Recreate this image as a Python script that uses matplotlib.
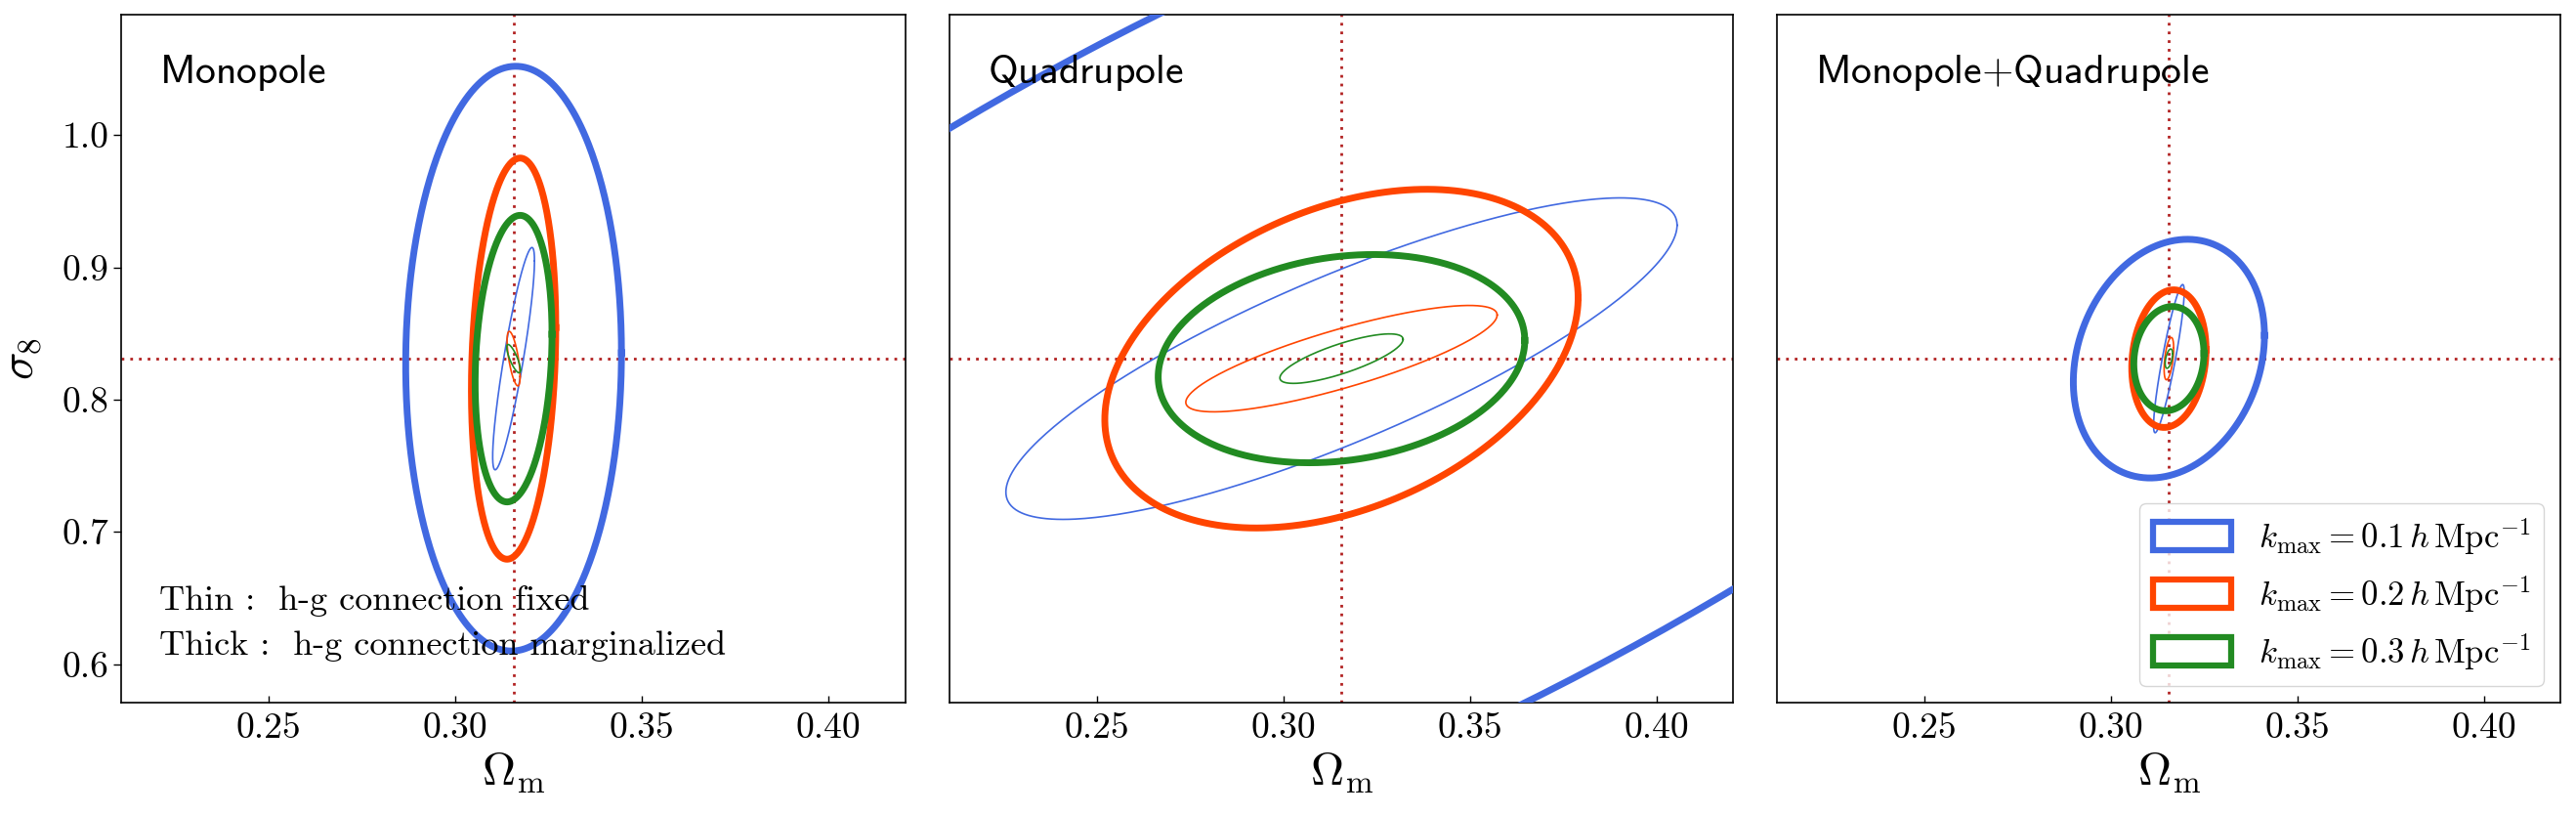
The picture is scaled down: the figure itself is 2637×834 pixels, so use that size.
import numpy as np
import matplotlib
matplotlib.use("Agg")
import matplotlib.pyplot as plt
import matplotlib.patches as mpatches

plt.rcParams["mathtext.fontset"] = "cm"
plt.rcParams["font.family"] = "serif"
plt.rcParams["font.serif"] = ["cmr10"]
plt.rcParams["axes.formatter.use_mathtext"] = True
plt.rcParams["axes.unicode_minus"] = False

# fiducial cosmology
om_fid = 0.3156
s8_fid = 0.831

kmax = [0.1, 0.2, 0.3]
colors = ["royalblue", "orangered", "forestgreen"]

panels = ["Monopole", "Quadrupole", "Monopole{+}Quadrupole"]

# 1-sigma-like half extents (Omega_m, sigma_8) and correlation, per kmax
# thick: h-g connection marginalized
marg_om = [[0.0289, 0.0113, 0.0103],
           [0.269, 0.0634, 0.0491],
           [0.0256, 0.00995, 0.0094]]
marg_s8 = [[0.221, 0.1516, 0.1083],
           [0.453, 0.128, 0.0787],
           [0.0902, 0.052, 0.0394]]
marg_rho = [[0.02, 0.155, 0.17],
            [0.70, 0.36, 0.175],
            [0.195, 0.13, 0.10]]
# thin: h-g connection fixed
fix_om = [[0.0056, 0.00174, 0.00183],
          [0.0899, 0.0417, 0.0165],
          [0.0041, 0.00128, 0.0010]]
fix_s8 = [[0.084, 0.0206, 0.0107],
          [0.1215, 0.0402, 0.0187],
          [0.056, 0.016, 0.0073]]
fix_rho = [[0.88, -0.66, -0.8],
           [0.83, 0.82, 0.78],
           [0.9, 0.5, 0.5]]


def ellipse(sx, sy, rho, n=400):
    t = np.linspace(0, 2 * np.pi, n)
    x = om_fid + sx * np.cos(t)
    y = s8_fid + sy * (rho * np.cos(t) + np.sqrt(1 - rho**2) * np.sin(t))
    return x, y


fig = plt.figure(figsize=(26.37, 8.34), dpi=100)
lefts = [0.04721, 0.36860, 0.68980]
axes = [fig.add_axes([l, 0.13789, 0.30432, 0.84412]) for l in lefts]

for i, ax in enumerate(axes):
    ax.axvline(om_fid, color="firebrick", ls=(0, (1, 2.2)), lw=2.0, zorder=1)
    ax.axhline(s8_fid, color="firebrick", ls=(0, (1, 2.2)), lw=2.0, zorder=1)
    for j in range(3):
        x, y = ellipse(marg_om[i][j], marg_s8[i][j], marg_rho[i][j])
        ax.plot(x, y, color=colors[j], lw=5, zorder=3)
        x, y = ellipse(fix_om[i][j], fix_s8[i][j], fix_rho[i][j])
        ax.plot(x, y, color=colors[j], lw=1.2, zorder=3)

    ax.set_xlim(om_fid - 0.105, om_fid + 0.105)
    ax.set_ylim(s8_fid - 0.26, s8_fid + 0.26)
    ax.set_xticks([0.25, 0.30, 0.35, 0.40])
    ax.set_xticklabels(["0.25", "0.30", "0.35", "0.40"])
    ax.tick_params(axis="x", direction="in", length=5, width=1, labelsize=27, pad=7)
    for s in ax.spines.values():
        s.set_linewidth(1.2)
    ax.set_xlabel(r"$\Omega_{\rm m}$", fontsize=34, va="top")
    ax.xaxis.set_label_coords(0.5, -0.07)
    ax.text(0.048, 0.9006, r"$\mathsf{%s}$" % panels[i], transform=ax.transAxes,
            fontsize=30, va="baseline", ha="left")
    if i == 0:
        ax.set_yticks([0.6, 0.7, 0.8, 0.9, 1.0])
        ax.set_yticklabels(["0.6", "0.7", "0.8", "0.9", "1.0"])
        ax.tick_params(axis="y", direction="out", length=6, width=1, labelsize=27)
        ax.set_ylabel(r"$\sigma_8$", fontsize=34)
        ax.yaxis.set_label_coords(-0.10, 0.5)
    else:
        ax.tick_params(axis="y", left=False, labelleft=False)

axes[0].text(0.048, 0.135, "Thin :  h-g connection fixed", transform=axes[0].transAxes,
             fontsize=26, va="baseline", ha="left")
axes[0].text(0.048, 0.0696, "Thick :  h-g connection marginalized", transform=axes[0].transAxes,
             fontsize=26, va="baseline", ha="left")

handles = [mpatches.Patch(facecolor="white", edgecolor=c, lw=4.5) for c in colors]
labels = [r"$k_{\rm max} = %.1f\,h\,{\rm Mpc}^{-1}$" % k for k in kmax]
axes[2].legend(handles, labels, loc="lower right", fontsize=25,
               handlelength=2.3, handleheight=0.9)

fig.savefig("out.png", dpi=100)
